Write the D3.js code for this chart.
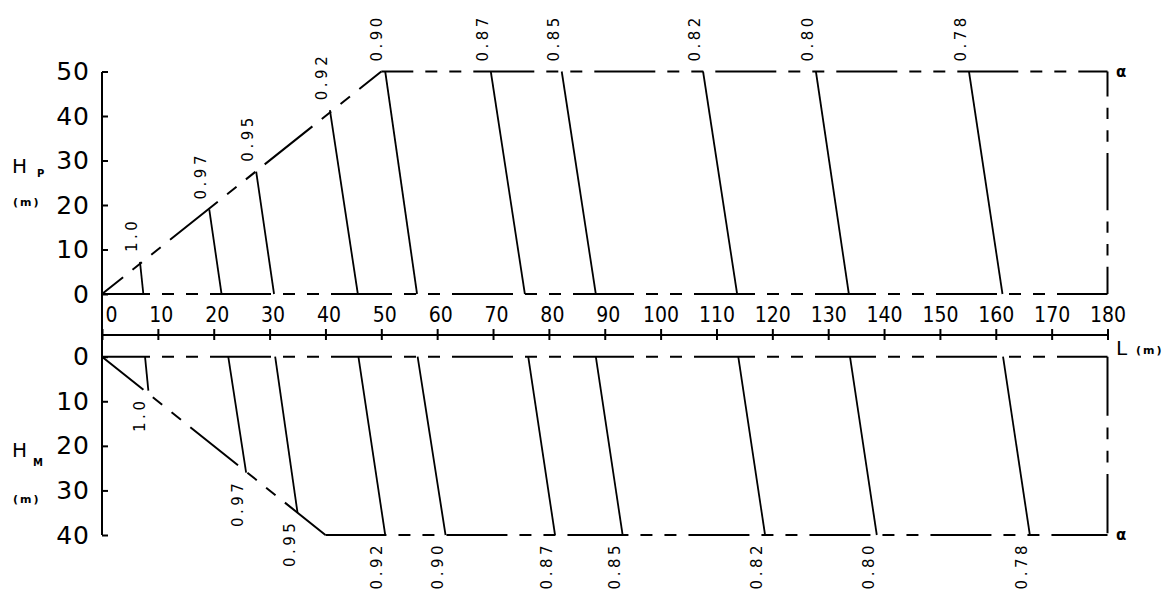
<!DOCTYPE html>
<html>
<head>
<meta charset="utf-8">
<script src="https://cdn.jsdelivr.net/npm/d3@7"></script>
<style>
  body { margin: 0; background: #fff; }
  svg { display: block; }
  text { font-family: "DejaVu Sans", sans-serif; fill: #000; }
  .axis path { display: none; }
  .axis line { stroke: #000; stroke-width: 2; }
  .axis text { font-family: "DejaVu Sans", sans-serif; fill: #000; }
  .x-axis text { font-family: "DejaVu Sans Condensed", "Liberation Sans Narrow", "DejaVu Sans", sans-serif; }
</style>
</head>
<body>
<div id="graphic"></div>
<script>
// curve labels (alpha values)
const alphaLabels = ["1.0", "0.97", "0.95", "0.92", "0.90", "0.87", "0.85", "0.82", "0.80", "0.78"];

// upper panel (H_P): top end of each curve and where it meets H = 0
const pTopL = [6.8, 19.2, 27.6, 40.8, 50.7, 69.6, 82.3, 107.6, 127.8, 155.2];
const pTopH = [7.2, 19.0, 27.5, 41.3, 50, 50, 50, 50, 50, 50];
const pBaseL = [7.4, 21.4, 30.8, 45.8, 56.4, 75.7, 88.4, 113.7, 133.7, 161.2];

// lower panel (H_M): start at H = 0 and lower end of each curve
const mTopL = [7.7, 22.6, 31.0, 45.9, 56.5, 76.3, 88.4, 113.9, 133.9, 161.3];
const mEndL = [8.3, 25.8, 35.0, 50.7, 61.5, 81.1, 93.2, 118.7, 138.7, 166.1];
const mEndH = [7.6, 26.0, 35.0, 40, 40, 40, 40, 40, 40, 40];

// boundary diagonals
const pDiagonal = [[0, 0], [50, 50]];
const mDiagonal = [[0, 0], [40, 40]];

// tick values
const xTicks = d3.range(0, 181, 10);
const pTicks = [0, 10, 20, 30, 40, 50];
const mTicks = [0, 10, 20, 30, 40];

const width = 1174, height = 592;

let svg = d3.select('#graphic')
	.append('svg')
	.attr('width', width)
	.attr('height', height);

//scales
const x = d3.scaleLinear().domain([0, 180]).range([102, 1107.5]);
const yP = d3.scaleLinear().domain([0, 50]).range([294, 71.5]);
const yM = d3.scaleLinear().domain([0, 40]).range([356.7, 535]);

// dash pattern of the boundary lines: long, gap, short, gap, short, gap
function dashes(k) {
	return [61, 12, 12, 12, 12, 12].map((d) => d * k).join(' ');
}

function dashedLine(points, yScale, offset, k) {
	svg.append('path')
		.attr('d', d3.line().x((d) => x(d[0])).y((d) => yScale(d[1]))(points))
		.attr('fill', 'none')
		.attr('stroke', '#000')
		.attr('stroke-width', 2)
		.attr('stroke-dasharray', dashes(k || 1))
		.attr('stroke-dashoffset', offset);
}

// upper panel boundary
dashedLine(pDiagonal, yP, 34);
dashedLine([[0, 0], [180, 0]], yP, 13);
dashedLine([[pDiagonal[1][0], 50], [180, 50]], yP, 29);
dashedLine([[180, 0], [180, 50]], yP, 30, 0.94);

// lower panel boundary
dashedLine(mDiagonal, yM, 8);
dashedLine([[0, 0], [180, 0]], yM, 13);
dashedLine([[mDiagonal[1][0], 40], [180, 40]], yM, 0);
dashedLine([[180, 0], [180, 40]], yM, 0, 0.97);

// alpha curves
let pCurves = alphaLabels.map((a, i) => ({ label: a, top: [pTopL[i], pTopH[i]], base: [pBaseL[i], 0] }));
let mCurves = alphaLabels.map((a, i) => ({ label: a, top: [mTopL[i], 0], base: [mEndL[i], mEndH[i]] }));

svg.append('g')
	.selectAll('line')
	.data(pCurves)
	.join('line')
	.attr('x1', (d) => x(d.top[0]))
	.attr('y1', (d) => yP(d.top[1]))
	.attr('x2', (d) => x(d.base[0]))
	.attr('y2', (d) => yP(d.base[1]))
	.attr('stroke', '#000')
	.attr('stroke-width', 1.8);

svg.append('g')
	.selectAll('line')
	.data(mCurves)
	.join('line')
	.attr('x1', (d) => x(d.top[0]))
	.attr('y1', (d) => yM(d.top[1]))
	.attr('x2', (d) => x(d.base[0]))
	.attr('y2', (d) => yM(d.base[1]))
	.attr('stroke', '#000')
	.attr('stroke-width', 1.8);

// curve labels, rotated
svg.append('g')
	.selectAll('text')
	.data(pCurves)
	.join('text')
	.attr('transform', (d) => `translate(${x(d.top[0]) - 3},${yP(d.top[1]) - 10}) rotate(-90)`)
	.attr('text-anchor', 'start')
	.style('font-size', '15px')
	.style('letter-spacing', '3.5px')
	.text((d) => d.label);

svg.append('g')
	.selectAll('text')
	.data(mCurves)
	.join('text')
	.attr('transform', (d) => `translate(${x(d.base[0]) - 3},${yM(d.base[1]) + 7}) rotate(-90)`)
	.attr('text-anchor', 'end')
	.style('font-size', '15px')
	.style('letter-spacing', '3.5px')
	.text((d) => d.label);

// y axes (ticks point inwards)
svg.append('g')
	.attr('class', 'axis y-axis')
	.attr('transform', `translate(${x(0)},0)`)
	.call(d3.axisLeft(yP).tickValues(pTicks).tickSizeInner(-6).tickSizeOuter(0).tickPadding(12).tickFormat(d3.format('d')))
	.selectAll('text')
	.style('font-size', '25px')
	.style('letter-spacing', '1px');

svg.append('g')
	.attr('class', 'axis y-axis')
	.attr('transform', `translate(${x(0)},0)`)
	.call(d3.axisLeft(yM).tickValues(mTicks).tickSizeInner(-6).tickSizeOuter(0).tickPadding(12).tickFormat(d3.format('d')))
	.selectAll('text')
	.style('font-size', '25px')
	.style('letter-spacing', '1px');

// one continuous vertical axis line through both panels
svg.append('line')
	.attr('x1', x(0)).attr('x2', x(0))
	.attr('y1', yP(50)).attr('y2', yM(40))
	.attr('stroke', '#000')
	.attr('stroke-width', 2)
	.attr('shape-rendering', 'crispEdges');

// shared L axis between the panels
const xAxisY = 335;
let xAxisG = svg.append('g')
	.attr('class', 'axis x-axis')
	.attr('transform', `translate(0,${xAxisY})`)
	.call(d3.axisTop(x).tickValues(xTicks).tickSizeInner(6).tickSizeOuter(0).tickPadding(7).tickFormat(d3.format('d')));

xAxisG.selectAll('.tick line').attr('y1', 5);
xAxisG.selectAll('.tick text')
	.style('font-size', '21px')
	.attr('dx', (d) => d === 0 ? 9 : d < 100 ? 3 : 0);

svg.append('line')
	.attr('x1', x(0)).attr('x2', x(180))
	.attr('y1', xAxisY).attr('y2', xAxisY)
	.attr('stroke', '#000')
	.attr('stroke-width', 2)
	.attr('shape-rendering', 'crispEdges');

// axis titles
function axisTitle(xPos, yPos, main, sub, unitY) {
	let t = svg.append('text')
		.attr('x', xPos)
		.attr('y', yPos)
		.style('font-size', '20px');
	t.append('tspan').text(main);
	t.append('tspan')
		.attr('dx', sub.dx)
		.attr('dy', sub.dy)
		.style('font-size', '10px')
		.style('font-weight', 'bold')
		.text(sub.text);
	svg.append('text')
		.attr('x', xPos + 1)
		.attr('y', unitY)
		.style('font-size', '11px')
		.style('font-weight', 'bold')
		.style('letter-spacing', '2px')
		.text('(m)');
}

axisTitle(12, 173, 'H', { text: 'P', dx: 10, dy: 4 }, 206);
axisTitle(12, 457, 'H', { text: 'M', dx: 6, dy: 9 }, 503);

svg.append('text')
	.attr('x', 1116)
	.attr('y', 355)
	.style('font-size', '20px')
	.text('L');
svg.append('text')
	.attr('x', 1136)
	.attr('y', 354)
	.style('font-size', '11px')
	.style('font-weight', 'bold')
	.style('letter-spacing', '2px')
	.text('(m)');

// alpha marks at the right end
svg.append('text')
	.attr('x', 1116)
	.attr('y', yP(50) + 5)
	.style('font-size', '15px')
	.style('font-weight', 'bold')
	.text('α');
svg.append('text')
	.attr('x', 1116)
	.attr('y', yM(40) + 5)
	.style('font-size', '15px')
	.style('font-weight', 'bold')
	.text('α');
</script>
</body>
</html>
